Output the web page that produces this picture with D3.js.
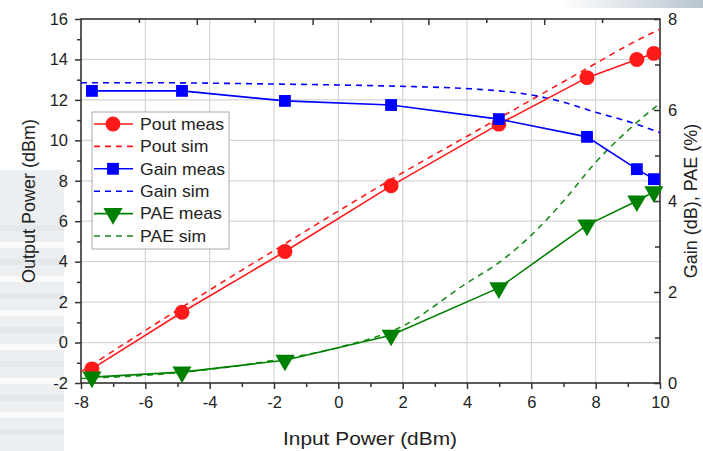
<!DOCTYPE html>
<html>
<head>
<meta charset="utf-8">
<script src="https://cdn.jsdelivr.net/npm/d3@7"></script>
<style>
  body { margin: 0; background: #fff; }
  svg { display: block; font-family: "Liberation Sans", Arial, sans-serif; }
</style>
</head>
<body>
<svg id="chart" width="703" height="451"></svg>
<script>
// measured points (input power, dBm)
const pinMeas = [-7.66, -4.86, -1.66, 1.64, 4.99, 7.73, 9.28, 9.81]
const poutMeas = [-1.3, 1.5, 4.5, 7.75, 10.8, 13.1, 14.0, 14.3]
const gainMeas = [6.42, 6.42, 6.2, 6.11, 5.8, 5.41, 4.7, 4.48]
const paeMeas = [0.13, 0.24, 0.5, 1.05, 2.09, 3.47, 4.0, 4.2]

// simulated curves
const pinSim = [-8, -6, -4, -2, 0, 2, 4, 5, 6, 7, 8, 9, 10]
const poutSim = [-1.45, 0.6, 2.6, 4.55, 6.5, 8.4, 10.2, 11.1, 12.0, 12.9, 13.8, 14.7, 15.5]
const gainSim = [6.6, 6.6, 6.59, 6.57, 6.55, 6.52, 6.47, 6.42, 6.33, 6.17, 5.95, 5.75, 5.5]
const paeSim = [0.1, 0.17, 0.3, 0.5, 0.78, 1.25, 2.2, 2.65, 3.25, 4.0, 4.85, 5.55, 6.15]

const xTicks = [-8, -6, -4, -2, 0, 2, 4, 6, 8, 10]
const yLeftTicks = [-2, 0, 2, 4, 6, 8, 10, 12, 14, 16]
const yRightTicks = [0, 2, 4, 6, 8]

const pLeft = 81, pRight = 660, pTop = 19, pBottom = 383
const svg = d3.select('#chart')
const fmt = d => String(d)   // plain hyphen minus like the original

// faded background photo on the left (rough)
const bg = svg.append('g').attr('opacity', 0.3)
bg.append('rect').attr('x', 0).attr('y', 170).attr('width', 64).attr('height', 281).attr('fill', '#c2cbd3')
for (let i = 0; i < 13; i++) {
  bg.append('rect').attr('x', 0).attr('y', 225 + i * 17).attr('width', 64).attr('height', 6)
    .attr('fill', i % 2 ? '#f2f4f6' : '#a9b4be')
}
const topGrad = svg.append('defs').append('linearGradient').attr('id', 'tg')
topGrad.append('stop').attr('offset', '0%').attr('stop-color', '#fff')
topGrad.append('stop').attr('offset', '100%').attr('stop-color', '#b8c4cf')
svg.append('rect').attr('x', 560).attr('y', 0).attr('width', 143).attr('height', 8).attr('fill', 'url(#tg)')

const x = d3.scaleLinear().domain([-8, 10]).range([pLeft, pRight])
const yL = d3.scaleLinear().domain([-2, 16]).range([pBottom, pTop])
const yR = d3.scaleLinear().domain([0, 8]).range([pBottom, pTop])
const xTop = d3.scaleLinear().domain([0, 10]).range([pLeft, pRight])

svg.append('rect').attr('x', pLeft).attr('y', pTop).attr('width', pRight - pLeft).attr('height', pBottom - pTop).attr('fill', '#fff')

// grid
const grid = svg.append('g').attr('stroke', '#d4d4d4').attr('stroke-width', 1.2)
grid.selectAll('.vg').data(xTicks.slice(1, -1)).enter().append('line')
  .attr('x1', d => x(d)).attr('x2', d => x(d)).attr('y1', pTop).attr('y2', pBottom)
grid.selectAll('.hg').data(yLeftTicks.slice(1, -1)).enter().append('line')
  .attr('y1', d => yL(d)).attr('y2', d => yL(d)).attr('x1', pLeft).attr('x2', pRight)

// axes
const axisColor = '#333'
const styleAxis = g => {
  g.select('.domain').remove()
  g.selectAll('line').attr('stroke', axisColor).attr('stroke-width', 1.5)
  g.selectAll('text').attr('fill', '#222').style('font-size', '16.5px').style('font-family', '"Liberation Sans", Arial, sans-serif')
}

// bottom
svg.append('g').attr('transform', `translate(0,${pBottom})`)
  .call(d3.axisBottom(x).tickValues(d3.range(-8, 10.5, 1)).tickSize(0).tickPadding(0).tickFormat(''))
  .call(styleAxis)
  .selectAll('.tick line').attr('y2', d => d % 2 === 0 ? 6 : 4)
svg.append('g').attr('transform', `translate(0,${pBottom})`)
  .call(d3.axisBottom(x).tickValues(xTicks).tickSize(0).tickPadding(13).tickFormat(fmt))
  .call(styleAxis)

// left
svg.append('g').attr('transform', `translate(${pLeft},0)`)
  .call(d3.axisLeft(yL).tickValues(d3.range(-2, 16.5, 1)).tickSize(0).tickFormat(''))
  .call(styleAxis)
  .selectAll('.tick line').attr('x2', d => d % 2 === 0 ? -6 : -4)
svg.append('g').attr('transform', `translate(${pLeft},0)`)
  .call(d3.axisLeft(yL).tickValues(yLeftTicks).tickSize(0).tickPadding(13).tickFormat(fmt))
  .call(styleAxis)

// right (ticks inward)
svg.append('g').attr('transform', `translate(${pRight},0)`)
  .call(d3.axisRight(yR).tickValues(d3.range(0, 8.5, 1)).tickSize(0).tickFormat(''))
  .call(styleAxis)
  .selectAll('.tick line').attr('x2', d => d % 2 === 0 ? -6 : -5)
svg.append('g').attr('transform', `translate(${pRight},0)`)
  .call(d3.axisRight(yR).tickValues(yRightTicks).tickSize(0).tickPadding(8).tickFormat(fmt))
  .call(styleAxis)

// top (ticks inward, no labels)
svg.append('g').attr('transform', `translate(0,${pTop})`)
  .call(d3.axisTop(xTop).tickValues(d3.range(1, 10, 1)).tickSize(0).tickFormat(''))
  .call(styleAxis)
  .selectAll('.tick line').attr('y2', d => d % 2 === 0 ? 6 : 4)

// frame
svg.append('rect').attr('x', pLeft).attr('y', pTop).attr('width', pRight - pLeft).attr('height', pBottom - pTop)
  .attr('fill', 'none').attr('stroke', axisColor).attr('stroke-width', 1.6)

// clip for curves
svg.append('clipPath').attr('id', 'plot').append('rect')
  .attr('x', pLeft).attr('y', pTop).attr('width', pRight - pLeft).attr('height', pBottom - pTop)

const series = [
  { name: 'Pout meas', xs: pinMeas, ys: poutMeas, y: yL, color: '#ff1a1a', dash: null, marker: 'circle' },
  { name: 'Pout sim', xs: pinSim, ys: poutSim, y: yL, color: '#ff1a1a', dash: '6,5', marker: null },
  { name: 'Gain meas', xs: pinMeas, ys: gainMeas, y: yR, color: '#0000ff', dash: null, marker: 'square' },
  { name: 'Gain sim', xs: pinSim, ys: gainSim, y: yR, color: '#0000ff', dash: '6,5', marker: null },
  { name: 'PAE meas', xs: pinMeas, ys: paeMeas, y: yR, color: '#008000', dash: null, marker: 'triangle' },
  { name: 'PAE sim', xs: pinSim, ys: paeSim, y: yR, color: '#1a8c1a', dash: '6,5', marker: null }
]

const symbolFor = m => m === 'circle' ? d3.symbol(d3.symbolCircle, 175)
  : m === 'square' ? d3.symbol(d3.symbolSquare, 140)
  : d3.symbol(d3.symbolTriangle, 160)

const curves = svg.append('g').attr('clip-path', 'url(#plot)')
const marks = svg.append('g')

// draw sim first, then meas
const order = [1, 3, 5, 0, 2, 4]
order.forEach(i => {
  const s = series[i]
  const pts = s.xs.map((v, k) => [x(v), s.y(s.ys[k])])
  const line = d3.line().curve(s.dash ? d3.curveMonotoneX : d3.curveLinear)
  curves.append('path').attr('d', line(pts))
    .attr('fill', 'none').attr('stroke', s.color).attr('stroke-width', 1.6)
    .attr('stroke-dasharray', s.dash)
  if (s.marker) {
    marks.selectAll(null).data(pts).enter().append('path')
      .attr('d', symbolFor(s.marker))
      .attr('transform', d => `translate(${d[0]},${d[1]})` + (s.marker === 'triangle' ? ' rotate(180)' : ''))
      .attr('fill', s.color)
  }
})

// legend
const lg = svg.append('g').attr('transform', 'translate(92,112)')
lg.append('rect').attr('width', 137).attr('height', 137).attr('fill', '#fff').attr('stroke', '#aaa').attr('stroke-width', 1)
series.forEach((s, i) => {
  const ry = 12 + i * 22.4
  lg.append('line').attr('x1', 2).attr('x2', 41).attr('y1', ry).attr('y2', ry)
    .attr('stroke', s.color).attr('stroke-width', 1.6).attr('stroke-dasharray', s.dash)
  if (s.marker) {
    lg.append('path').attr('d', symbolFor(s.marker))
      .attr('transform', `translate(21,${ry})` + (s.marker === 'triangle' ? ' rotate(180)' : ''))
      .attr('fill', s.color)
  }
  // text in the original is a bit wider than Liberation Sans
  lg.append('text').attr('transform', `translate(48,${ry}) scale(1.1,1)`).attr('dy', '0.36em')
    .style('font-size', '16px').attr('fill', '#222').text(s.name)
})

// axis titles
svg.append('text').attr('x', 370).attr('y', 445).attr('text-anchor', 'middle')
  .attr('textLength', 174).attr('lengthAdjust', 'spacingAndGlyphs')
  .style('font-size', '19px').attr('fill', '#222').text('Input Power (dBm)')
svg.append('text').attr('transform', `translate(35,${(pTop + pBottom) / 2}) rotate(-90)`).attr('text-anchor', 'middle')
  .style('font-size', '18px').attr('fill', '#222').text('Output Power (dBm)')
svg.append('text').attr('transform', `translate(697,${(pTop + pBottom) / 2}) rotate(-90)`).attr('text-anchor', 'middle')
  .style('font-size', '18px').attr('fill', '#222').text('Gain (dB), PAE (%)')
</script>
</body>
</html>
